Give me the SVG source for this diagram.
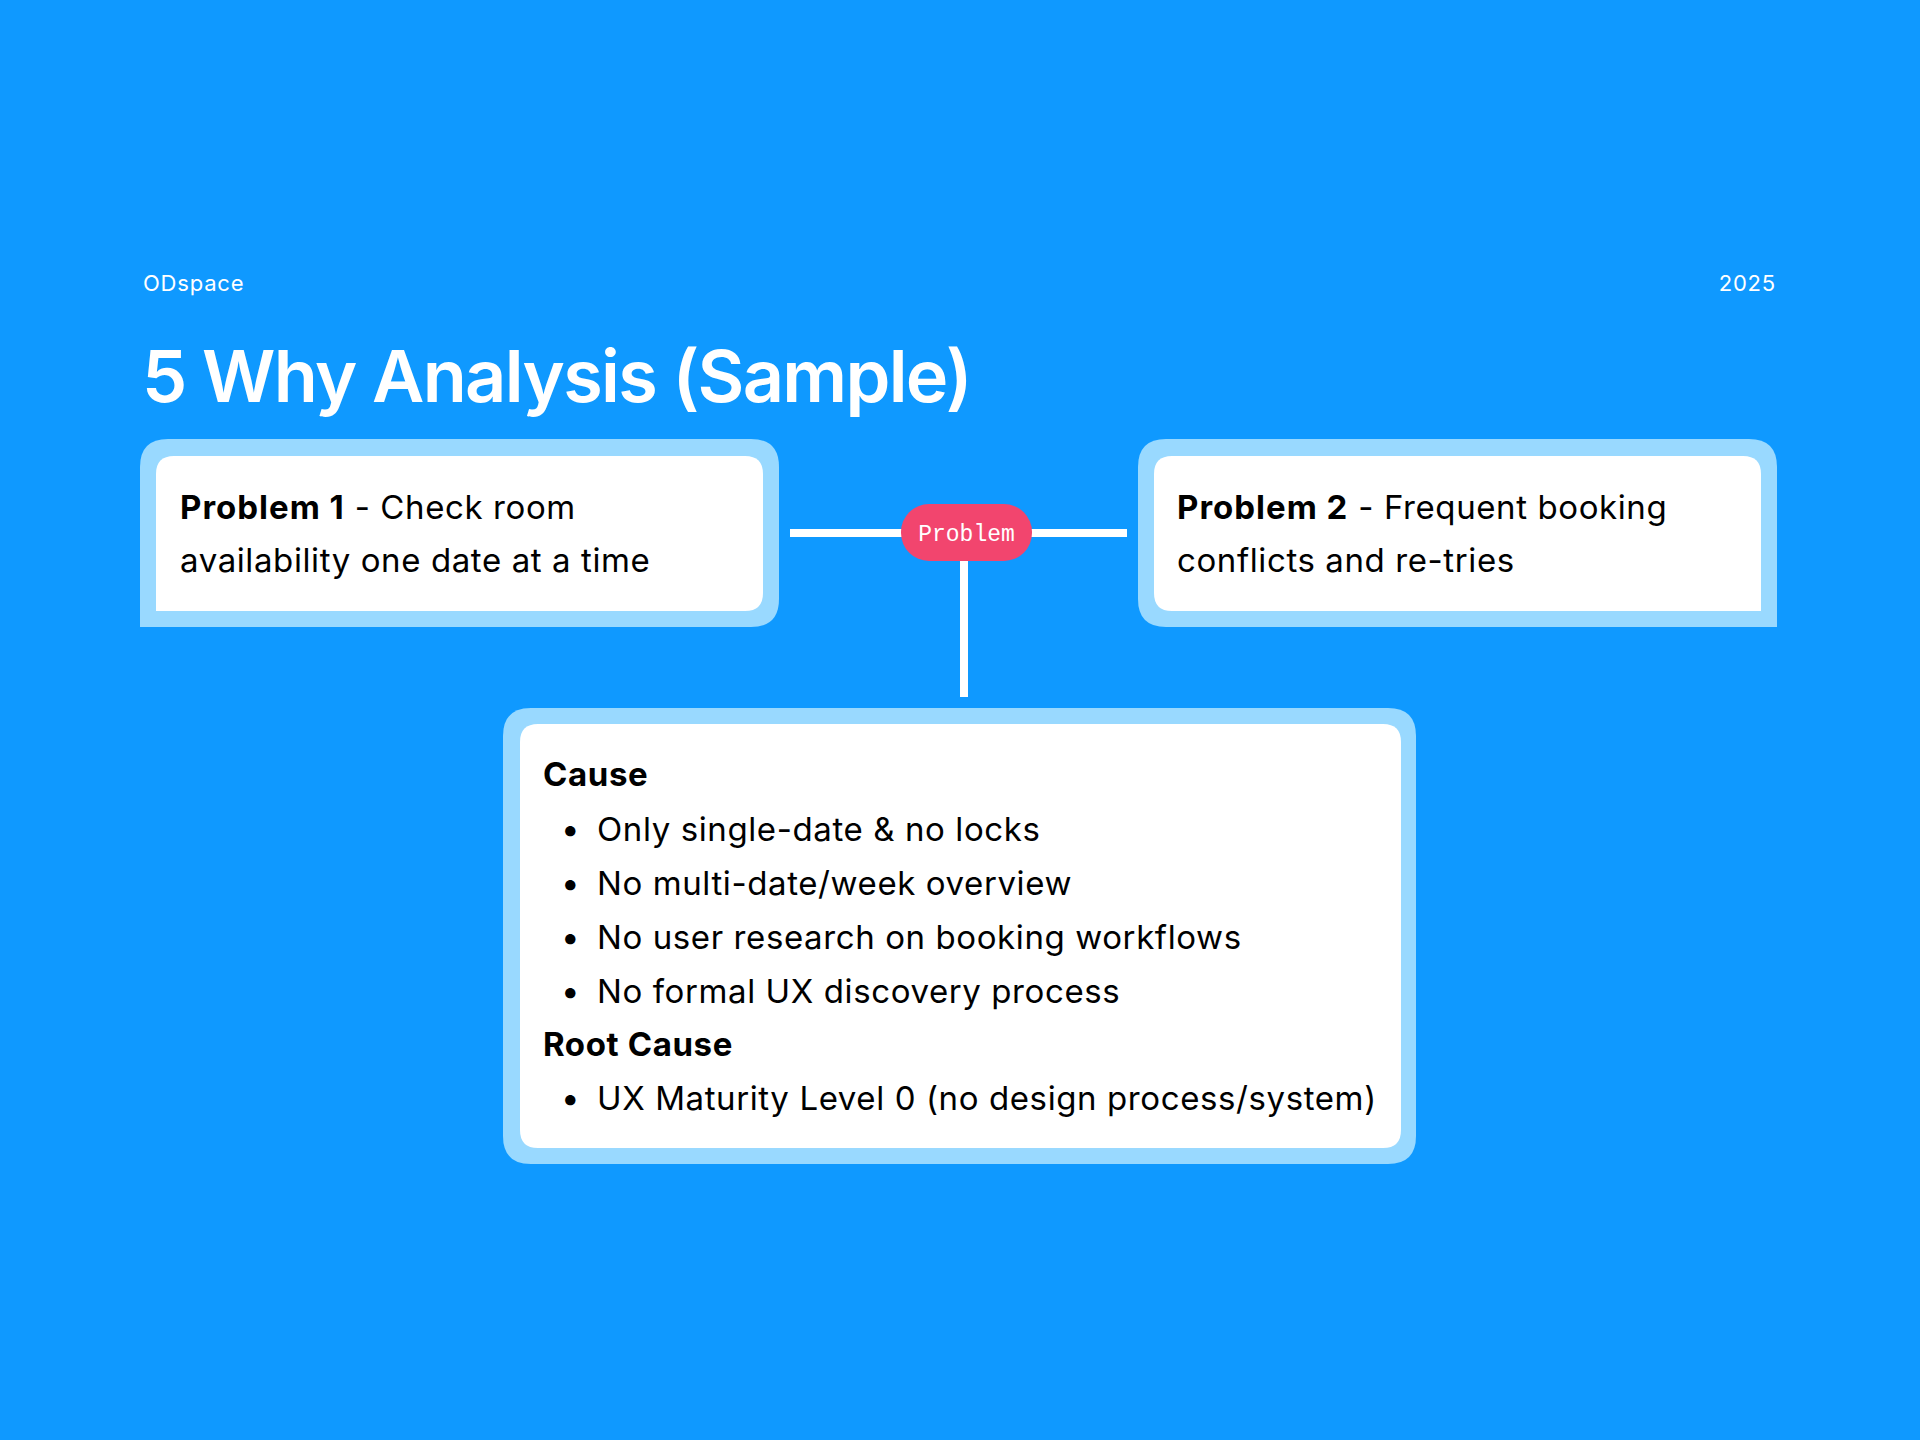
<svg xmlns="http://www.w3.org/2000/svg" width="1920" height="1440" viewBox="0 0 1920 1440">
<style>
.t{font-family:Inter,"Noto Sans","Liberation Sans",sans-serif;fill:#000}
.w{fill:#fff}
.b{font-weight:700;letter-spacing:1px}
.frame{fill:#99D9FF}
.inner{fill:#fff}
.conn{stroke:#fff;stroke-width:8;fill:none}
.body{font-size:33px;letter-spacing:0.6px}
.small{font-size:22px;letter-spacing:0.8px}
</style>
<rect x="0" y="0" width="1920" height="1440" fill="#0F99FF"/>
<text class="t w small" x="143" y="291">ODspace</text>
<text class="t w small" x="1776" y="291" text-anchor="end">2025</text>
<text class="t w" x="142" y="402" font-size="72" font-weight="600" letter-spacing="-1.7">5 Why Analysis (Sample)</text>

<g id="connectors">
<line class="conn" x1="790" y1="533" x2="1127" y2="533"/>
<line class="conn" x1="964" y1="540" x2="964" y2="697"/>
</g>

<g id="problem-label">
<rect x="901" y="504" width="131" height="57" rx="28" fill="#F2456E"/>
<text x="966.5" y="541" font-family="'Liberation Mono','DejaVu Sans Mono',monospace" font-size="23" fill="#fff" text-anchor="middle">Problem</text>
</g>

<g id="problem1">
<path class="frame" d="M140 627 V467 Q140 439 168 439 H751 Q779 439 779 467 V599 Q779 627 751 627 Z"/>
<path class="inner" d="M156 611 V474 Q156 456 174 456 H745 Q763 456 763 474 V593 Q763 611 745 611 Z"/>
<text class="t body" x="180" y="519"><tspan class="b">Problem 1</tspan> - Check room</text>
<text class="t body" x="180" y="572">availability one date at a time</text>
</g>

<g id="problem2">
<path class="frame" d="M1138 599 V467 Q1138 439 1166 439 H1749 Q1777 439 1777 467 V627 H1166 Q1138 627 1138 599 Z"/>
<path class="inner" d="M1154 593 V474 Q1154 456 1172 456 H1743 Q1761 456 1761 474 V611 H1172 Q1154 611 1154 593 Z"/>
<text class="t body" x="1177" y="519"><tspan class="b">Problem 2</tspan> - Frequent booking</text>
<text class="t body" x="1177" y="572">conflicts and re-tries</text>
</g>

<g id="cause">
<path class="frame" d="M503 736 Q503 708 531 708 H1388 Q1416 708 1416 736 V1136 Q1416 1164 1388 1164 H531 Q503 1164 503 1136 Z"/>
<path class="inner" d="M520 742 Q520 724 538 724 H1383 Q1401 724 1401 742 V1130 Q1401 1148 1383 1148 H538 Q520 1148 520 1130 Z"/>
<text class="t body b" x="543" y="786">Cause</text>
<text class="t body" x="561" y="841">•</text>
<text class="t body" x="597" y="841">Only single-date &amp; no locks</text>
<text class="t body" x="561" y="895">•</text>
<text class="t body" x="597" y="895">No multi-date/week overview</text>
<text class="t body" x="561" y="949">•</text>
<text class="t body" x="597" y="949">No user research on booking workflows</text>
<text class="t body" x="561" y="1003">•</text>
<text class="t body" x="597" y="1003">No formal UX discovery process</text>
<text class="t body b" x="543" y="1056">Root Cause</text>
<text class="t body" x="561" y="1110">•</text>
<text class="t body" x="597" y="1110">UX Maturity Level 0 (no design process/system)</text>
</g>
</svg>
